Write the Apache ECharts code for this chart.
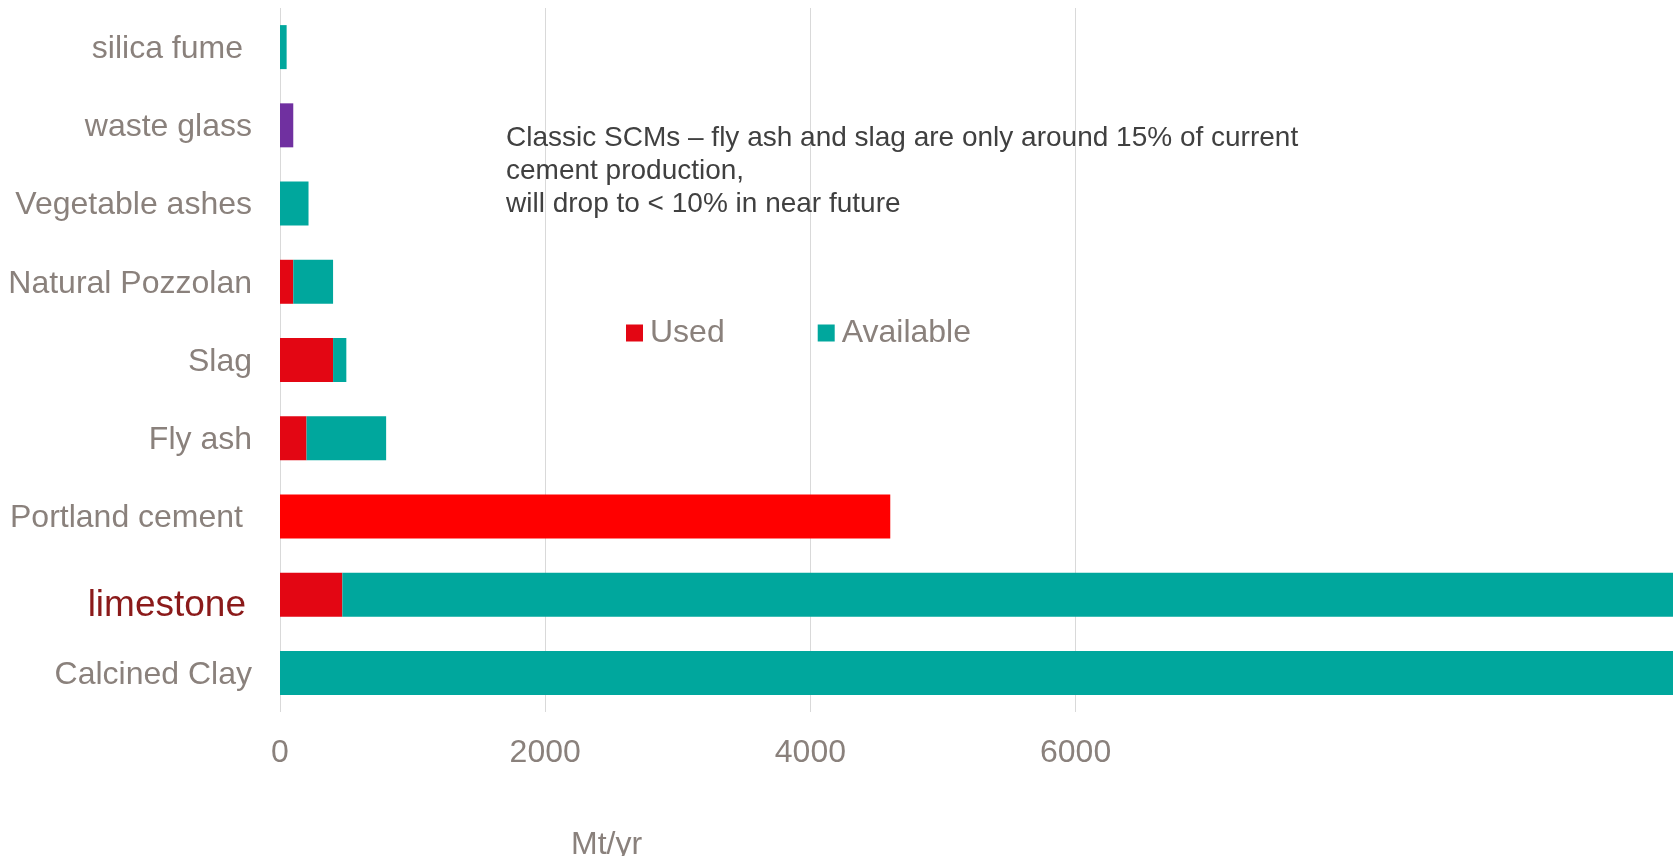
<!DOCTYPE html>
<html>
<head>
<meta charset="utf-8">
<script src="https://cdn.jsdelivr.net/npm/echarts@6/dist/echarts.min.js"></script>
<style>
html,body{margin:0;padding:0;background:#fff;}
#c{width:1673px;height:856px;}
</style>
</head>
<body>
<div id="c"></div>
<script>
// categories listed bottom to top
const categories = ['Calcined Clay', 'limestone', 'Portland cement', 'Fly ash', 'Slag', 'Natural Pozzolan', 'Vegetable ashes', 'waste glass', 'silica fume'];
const usedValues = [0, 470, 4600, 200, 400, 100, 0, 0, 0];
const availableValues = [12000, 11000, 0, 600, 100, 300, 215, 100, 50];
const tickValues = [0, 2000, 4000, 6000];
const seriesNames = ['Used', 'Available'];
const axisName = 'Mt/yr';
const noteText = 'Classic SCMs \u2013 fly ash and slag are only around 15% of current\ncement production,\nwill drop to < 10% in near future';

const GREY = '#8a817c';
const RED = '#e30613';
const TEAL = '#00a79d';
const FONT = "'Liberation Sans', Arial, sans-serif";

const usedData = usedValues.map((v, i) =>
  categories[i] === 'Portland cement' ? { value: v, itemStyle: { color: '#ff0000' } } : v);
const availData = availableValues.map((v, i) =>
  categories[i] === 'waste glass' ? { value: v, itemStyle: { color: '#7030a0' } } : v);

const chart = echarts.init(document.getElementById('c'), null, { renderer: 'canvas' });
chart.setOption({
  animation: false,
  textStyle: { fontFamily: FONT },
  title: [
    { text: noteText, left: 506, top: 122, padding: 0,
      textStyle: { fontFamily: FONT, fontSize: 28, lineHeight: 33, fontWeight: 'normal', color: '#404040' } },
    { text: axisName, left: 571, top: 829, padding: 0,
      textStyle: { fontFamily: FONT, fontSize: 32, lineHeight: 32, fontWeight: 'normal', color: GREY } }
  ],
  legend: {
    data: seriesNames,
    left: 626, top: 317, padding: 0,
    itemWidth: 17, itemHeight: 17, itemGap: 93,
    icon: 'rect',
    textStyle: { fontFamily: FONT, fontSize: 32, color: GREY, padding: [0, 0, 0, 2] }
  },
  grid: [
    { left: 280, right: 0, top: 8, bottom: 144, containLabel: false },
    { left: 280, width: 795.6, top: 8, bottom: 144, containLabel: false }
  ],
  xAxis: [
    { type: 'value', gridIndex: 0, min: 0, max: 10500, show: false },
    { type: 'value', gridIndex: 1, min: tickValues[0], max: tickValues[tickValues.length - 1],
      interval: tickValues[1] - tickValues[0],
      axisLine: { show: false }, axisTick: { show: false },
      splitLine: { show: true, lineStyle: { color: '#d9d9d9', width: 1 } },
      axisLabel: { fontFamily: FONT, fontSize: 32, color: GREY, margin: 25,
        formatter: function (v) { return String(v); } } }
  ],
  yAxis: [
    { type: 'category', gridIndex: 0, data: categories,
      axisLine: { show: false }, axisTick: { show: false },
      axisLabel: {
        margin: 28,
        formatter: function (v) {
          if (v === 'limestone') return '{lime|' + v + '}';
          if (v === 'silica fume' || v === 'Portland cement') return '{pad|' + v + '}';
          return '{n|' + v + '}';
        },
        rich: {
          n: { fontFamily: FONT, fontSize: 32, color: GREY, padding: [4, 0, 0, 0] },
          pad: { fontFamily: FONT, fontSize: 32, color: GREY, padding: [4, 9, 0, 0] },
          lime: { fontFamily: FONT, fontSize: 37, color: '#8b1a1a', padding: [23, 6, 0, 0] }
        }
      } },
    { type: 'value', gridIndex: 1, show: false }
  ],
  series: [
    { name: seriesNames[0], type: 'bar', stack: 'total', xAxisIndex: 0, yAxisIndex: 0,
      barWidth: 44, itemStyle: { color: RED }, data: usedData },
    { name: seriesNames[1], type: 'bar', stack: 'total', xAxisIndex: 0, yAxisIndex: 0,
      barWidth: 44, itemStyle: { color: TEAL }, data: availData }
  ]
});
</script>
</body>
</html>
